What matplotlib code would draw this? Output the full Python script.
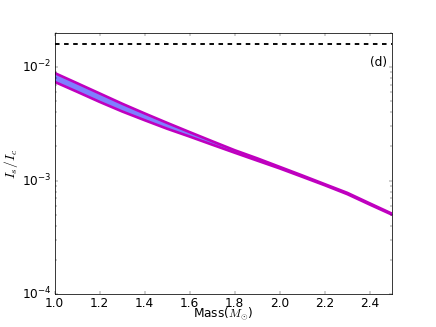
import matplotlib
matplotlib.use("Agg")
import matplotlib.pyplot as plt

plt.style.use('classic')
plt.rcParams['font.size'] = 16

mass = [1.0, 1.1, 1.2, 1.3, 1.4, 1.5, 1.6, 1.7, 1.8, 1.9, 2.0, 2.1, 2.2, 2.3, 2.4, 2.5]
upper = [8.85e-3, 7.2e-3, 5.85e-3, 4.75e-3, 3.9e-3, 3.22e-3, 2.67e-3, 2.22e-3, 1.85e-3,
         1.57e-3, 1.32e-3, 1.11e-3, 9.3e-4, 7.8e-4, 6.3e-4, 5.1e-4]
lower = [7.4e-3, 6.05e-3, 4.93e-3, 4.06e-3, 3.4e-3, 2.86e-3, 2.44e-3, 2.07e-3, 1.76e-3,
         1.5e-3, 1.28e-3, 1.08e-3, 9.1e-4, 7.6e-4, 6.15e-4, 5.0e-4]
ref_level = 0.016
xticks = [1.0, 1.2, 1.4, 1.6, 1.8, 2.0, 2.2, 2.4]

fig = plt.figure(figsize=(8, 6), dpi=54.5)
ax = fig.add_subplot(111)
ax.fill_between(mass, lower, upper, color='b', alpha=0.5, linewidth=0)
ax.plot(mass, upper, color='m', lw=3.5)
ax.plot(mass, lower, color='m', lw=3.5)
ax.axhline(ref_level, color='k', ls='--', lw=2.5)
ax.set_yscale('log')
ax.set_xlim(1.0, 2.5)
ax.set_ylim(1e-4, 2e-2)
ax.set_xticks(xticks)
ax.set_xlabel(r'Mass($M_{\odot}$)', labelpad=-6)
ax.set_ylabel(r'$I_s/I_c$', fontsize=18, labelpad=2)
ax.text(2.4, 0.0102, '(d)')
fig.savefig('out.png', dpi=54.5)
